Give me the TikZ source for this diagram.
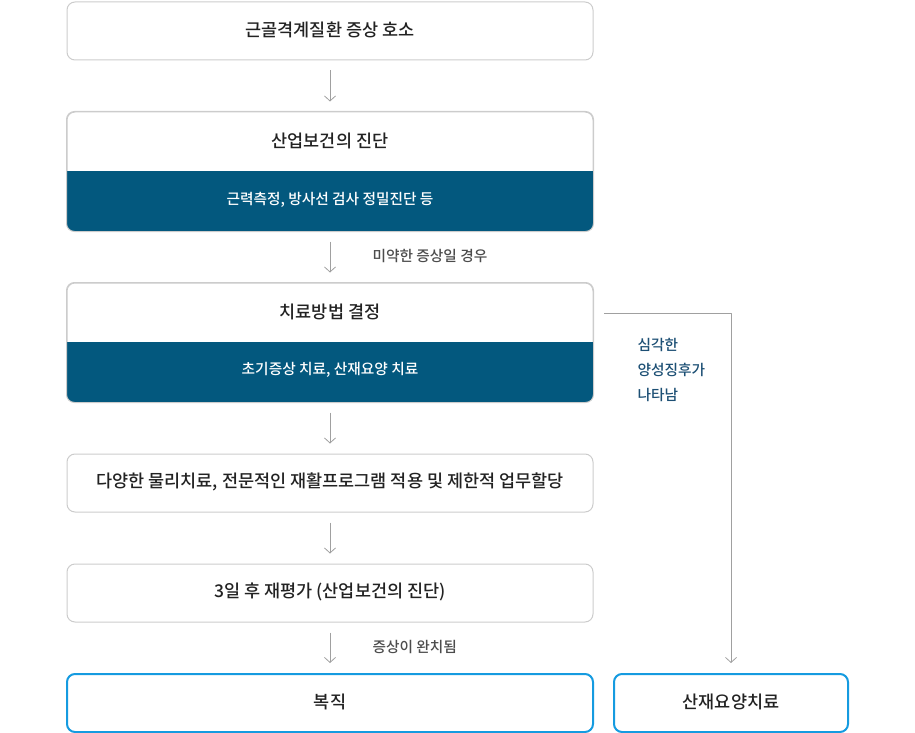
\documentclass[tikz,border=0pt]{standalone}
\usepackage{fontspec}
\setmainfont{Noto Sans CJK KR}
\IfFontExistsTF{Noto Sans CJK KR Medium}
	{\newfontfamily\medfont{Noto Sans CJK KR Medium}}
	{\newfontfamily\medfont{Noto Sans CJK KR}[FakeBold=0.35]}
\usetikzlibrary{arrows.meta}
\definecolor{boxline}{HTML}{CCCCCC}
\definecolor{band}{HTML}{03587E}
\definecolor{endline}{HTML}{159BE0}
\definecolor{sidetxt}{HTML}{1C4F74}
\definecolor{arrgray}{HTML}{A0A0A0}
\definecolor{titletxt}{HTML}{222222}
\tikzset{
	box/.style={draw=boxline, line width=1pt, rounded corners=8pt, minimum width=526pt, minimum height=58pt, inner sep=0pt},
	tallbox/.style={box, minimum height=119pt},
	endbox/.style={box, draw=endline, line width=2pt},
	title/.style={text=titletxt, font=\medfont\fontsize{17.5}{20}\selectfont},
	bandtext/.style={text=white, font=\medfont\fontsize{14.7}{17}\selectfont},
	note/.style={text=black!70, font=\medfont\fontsize{14.7}{17}\selectfont, anchor=west},
	arr/.style={draw=arrgray, line width=0.8pt, -{Straight Barb[length=5pt,width=11pt]}, shorten <=10pt, shorten >=10pt}
}
\begin{document}
\begin{tikzpicture}[x=1pt, y=-1pt, line join=round]
	\useasboundingbox (0,0) rectangle (915,733);
	% boxes of the main column
	\node[box] (symptom) at (330,31) {};
	\node[tallbox] (diag) at (330,171.5) {};
	\node[tallbox] (method) at (330,342.5) {};
	\node[box] (therapy) at (330,483) {};
	\node[box] (recheck) at (330,593) {};
	\node[endbox] (back) at (330,703) {};
	\node[endbox, minimum width=234pt] (care) at (731,703) {};
	% dark bands
	\foreach \b/\t in {diag/201, method/372}{
		\begin{scope}
			\clip[rounded corners=8pt] (\b.north west) rectangle (\b.south east);
			\fill[band] (67,\t-30) rectangle (593,\t+30);
		\end{scope}
		\draw[boxline, line width=1pt, rounded corners=8pt] (\b.north west) rectangle (\b.south east);
	}
	% texts
	\node[title] (t1) at (330,30) {근골격계질환 증상 호소};
	\node[title] (t2) at (330,141) {산업보건의 진단};
	\node[bandtext] (b2) at (330,200) {근력측정, 방사선 검사 정밀진단 등};
	\node[title] (t3) at (330,312) {치료방법 결정};
	\node[bandtext] (b3) at (330,370) {초기증상 치료, 산재요양 치료};
	\node[title] (t4) at (330,482) {다양한 물리치료, 전문적인 재활프로그램 적용 및 제한적 업무할당};
	\node[title] (t5) at (330,592) {3일 후 재평가 (산업보건의 진단)};
	\node[title] (t6) at (330,702) {복직};
	\node[title] (t7) at (731,702) {산재요양치료};
	% arrows
	\draw[arr] (symptom) -- (diag);
	\draw[arr] (diag) -- (method);
	\draw[arr] (method) -- (therapy);
	\draw[arr] (therapy) -- (recheck);
	\draw[arr] (recheck) -- (back);
	\coordinate (sidestart) at (604,313);
	\draw[arr, shorten <=0pt] (sidestart) -| (care);
	% labels
	\node[note] (n1) at (369,256) {미약한 증상일 경우};
	\node[note] (n2) at (369,647) {증상이 완치됨};
	\node[note, text=sidetxt, align=left, font=\medfont\fontsize{14.7}{25}\selectfont] (n3) at (634,370) {심각한\\양성징후가\\나타남};
\end{tikzpicture}
\end{document}
